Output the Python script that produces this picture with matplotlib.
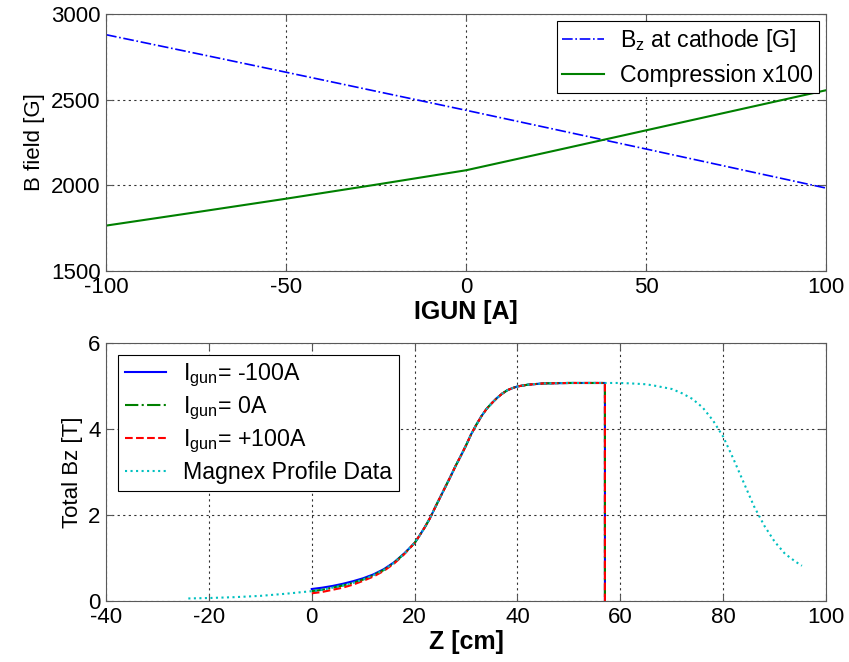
import numpy as np
import matplotlib
matplotlib.use("Agg")
import matplotlib.pyplot as plt

plt.rcParams["font.family"] = ["Liberation Sans", "DejaVu Sans"]
plt.rcParams["mathtext.fontset"] = "custom"
plt.rcParams["mathtext.rm"] = "Liberation Sans"
plt.rcParams["axes.unicode_minus"] = False

# --- top panel: field at cathode and compression vs gun current ---
igun = [-100, -75, -50, -25, 0, 25, 50, 75, 100]
bz_cathode = [2879, 2770, 2660, 2549, 2438, 2325, 2212, 2098, 1984]
compression_x100 = [1765, 1843, 1922, 2004, 2088, 2204, 2321, 2438, 2555]

# --- bottom panel: on-axis Bz profile ---
z_gun = [0, 2, 4, 6, 8, 10, 12, 14, 16, 18,
         20, 21, 22, 23, 24, 25, 26, 27, 28, 29, 30, 31, 32, 33, 34, 35, 36, 37, 38, 39, 40,
         42, 45, 50, 57, 57]
bz_0 = [0.23, 0.26, 0.31, 0.36, 0.42, 0.50, 0.60, 0.72, 0.89, 1.10,
        1.35, 1.53, 1.72, 1.93, 2.18, 2.42, 2.66, 2.90, 3.15, 3.38, 3.62, 3.88, 4.10, 4.30,
        4.47, 4.60, 4.72, 4.82, 4.90, 4.95, 4.99,
        5.03, 5.06, 5.07, 5.07, 0.0]
bz_m100 = [0.28, 0.31, 0.35, 0.40, 0.46, 0.53, 0.62, 0.74, 0.90, 1.11] + bz_0[10:]
bz_p100 = [0.18, 0.21, 0.26, 0.31, 0.38, 0.47, 0.57, 0.70, 0.87, 1.09] + bz_0[10:]

z_magnex = [-24, -20, -15, -10, -5] + z_gun[:-1] + [60, 62, 65, 67, 70, 72, 74, 76, 78,
                                                    80, 82, 84, 86, 88, 90, 92, 94, 95.3]
bz_magnex = [0.06, 0.07, 0.09, 0.12, 0.17] + bz_0[:-1] + [5.07, 5.06, 5.04, 5.00, 4.93,
                                                          4.83, 4.70, 4.50, 4.20, 3.82,
                                                          3.30, 2.75, 2.20, 1.75, 1.38,
                                                          1.10, 0.92, 0.82]


def matlab_axes(ax):
    ax.tick_params(direction="in", top=True, right=True, labelsize=16, length=5,
                   color="0.35", pad=4)
    for s in ax.spines.values():
        s.set_color("0.35")
    ax.grid(True, color="black", linestyle=(0, (2, 3)), linewidth=0.8, alpha=0.8)


fig = plt.figure(figsize=(8.49, 6.62), dpi=100)
ax1 = fig.add_axes([0.1249, 0.5906, 0.8481, 0.3883])
ax2 = fig.add_axes([0.1249, 0.0921, 0.8481, 0.3898])

ax1.plot(igun, bz_cathode, color="blue", linestyle="-.", lw=1.2,
         label=r"B$_\mathregular{z}$ at cathode [G]")
ax1.plot(igun, compression_x100, color="green", linestyle="-", lw=1.5,
         label="Compression x100")
ax1.set_xlim(-100, 100)
ax1.set_ylim(1500, 3000)
ax1.set_xticks([-100, -50, 0, 50, 100])
ax1.set_yticks([1500, 2000, 2500, 3000])
ax1.set_xlabel("IGUN [A]", fontsize=18, fontweight="bold", labelpad=2)
ax1.set_ylabel("B field [G]", fontsize=16)
matlab_axes(ax1)
leg1 = ax1.legend(loc="upper right", fontsize=16.7, frameon=True, fancybox=False,
                  edgecolor="black", framealpha=1, handlelength=1.8,
                  handletextpad=0.7, borderaxespad=0.3, labelspacing=0.45,
                  borderpad=0.25)
leg1.get_frame().set_linewidth(0.8)

ax2.plot(z_gun, bz_m100, color="blue", linestyle="-", lw=1.5,
         label=r"I$_\mathregular{gun}$= -100A")
ax2.plot(z_gun, bz_0, color="green", linestyle="-.", lw=1.5,
         label=r"I$_\mathregular{gun}$= 0A")
ax2.plot(z_gun, bz_p100, color="red", linestyle="--", lw=1.5,
         label=r"I$_\mathregular{gun}$= +100A")
ax2.plot(z_magnex, bz_magnex, color="#00c0c0", linestyle=":", lw=1.5,
         label="Magnex Profile Data")
ax2.set_xlim(-40, 100)
ax2.set_ylim(0, 6)
ax2.set_xticks([-40, -20, 0, 20, 40, 60, 80, 100])
ax2.set_yticks([0, 2, 4, 6])
ax2.set_xlabel("Z [cm]", fontsize=18, fontweight="bold", labelpad=2)
ax2.set_ylabel("Total Bz [T]", fontsize=16)
matlab_axes(ax2)
leg2 = ax2.legend(loc="upper left", fontsize=16.7, frameon=True, fancybox=False,
                  edgecolor="black", framealpha=1, handlelength=1.8,
                  handletextpad=0.7, borderaxespad=0.5, labelspacing=0.25,
                  borderpad=0.3)
leg2.get_frame().set_linewidth(0.8)

fig.savefig("out.png", dpi=100)
